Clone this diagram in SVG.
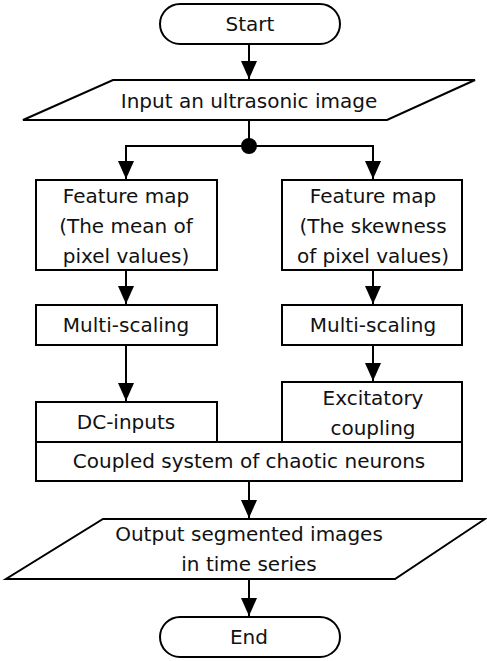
<svg xmlns="http://www.w3.org/2000/svg" width="487" height="661" viewBox="0 0 487 661">
<style>
.s{fill:#fff;stroke:#000;stroke-width:2}
.t{font-family:"DejaVu Sans","Noto Sans",sans-serif;font-size:20px;fill:#111;text-anchor:middle;dominant-baseline:central}
.c{stroke:#000;stroke-width:2;fill:none}
</style>
<defs>
<marker id="a" markerWidth="18" markerHeight="16" refX="18" refY="8" orient="auto" markerUnits="userSpaceOnUse" viewBox="0 0 18 16">
<path d="M0,0 L18,8 L0,16 Z" fill="#000"/>
</marker>
</defs>
<rect width="487" height="661" fill="#fff"/>
<g id="connectors">
<line class="c" x1="249" y1="44" x2="249" y2="79" marker-end="url(#a)"/>
<line class="c" x1="249" y1="120" x2="249" y2="146"/>
<line class="c" x1="126" y1="146" x2="373" y2="146"/>
<line class="c" x1="126" y1="145" x2="126" y2="179" marker-end="url(#a)"/>
<line class="c" x1="373" y1="145" x2="373" y2="179" marker-end="url(#a)"/>
<circle cx="249" cy="146" r="8" fill="#000"/>
<line class="c" x1="126" y1="270" x2="126" y2="304" marker-end="url(#a)"/>
<line class="c" x1="373" y1="270" x2="373" y2="304" marker-end="url(#a)"/>
<line class="c" x1="126" y1="345" x2="126" y2="401" marker-end="url(#a)"/>
<line class="c" x1="373" y1="345" x2="373" y2="381" marker-end="url(#a)"/>
<line class="c" x1="249" y1="481" x2="249" y2="518" marker-end="url(#a)"/>
<line class="c" x1="249" y1="579" x2="249" y2="616" marker-end="url(#a)"/>
</g>
<g id="start">
<rect class="s" x="160" y="4" width="180" height="40" rx="20" ry="20"/>
<text class="t" x="250" y="24">Start</text>
</g>
<g id="input">
<polygon class="s" points="113,80 475,80 387,120 23,120"/>
<text class="t" x="249" y="101">Input an ultrasonic image</text>
</g>
<g id="feature-mean">
<rect class="s" x="36" y="180" width="181" height="90"/>
<text class="t" x="126" y="196">Feature map</text>
<text class="t" x="126" y="226">(The mean of</text>
<text class="t" x="126" y="256">pixel values)</text>
</g>
<g id="feature-skew">
<rect class="s" x="282" y="180" width="180" height="90"/>
<text class="t" x="373" y="196">Feature map</text>
<text class="t" x="373" y="226">(The skewness</text>
<text class="t" x="373" y="256">of pixel values)</text>
</g>
<g id="multi-left">
<rect class="s" x="36" y="305" width="181" height="40"/>
<text class="t" x="126" y="325">Multi-scaling</text>
</g>
<g id="multi-right">
<rect class="s" x="282" y="305" width="180" height="40"/>
<text class="t" x="373" y="325">Multi-scaling</text>
</g>
<g id="coupled">
<rect class="s" x="36" y="442" width="426" height="39"/>
<text class="t" x="249" y="461">Coupled system of chaotic neurons</text>
</g>
<g id="dc-inputs">
<rect class="s" x="36" y="402" width="181" height="40"/>
<text class="t" x="126" y="422">DC-inputs</text>
</g>
<g id="excitatory">
<rect class="s" x="282" y="382" width="180" height="60"/>
<text class="t" x="373" y="398">Excitatory</text>
<text class="t" x="373" y="428">coupling</text>
</g>
<g id="output">
<polygon class="s" points="103,519 485,519 395,579 6,579"/>
<text class="t" x="249" y="534">Output segmented images</text>
<text class="t" x="249" y="564">in time series</text>
</g>
<g id="end">
<rect class="s" x="160" y="617" width="180" height="40" rx="20" ry="20"/>
<text class="t" x="249" y="637">End</text>
</g>
</svg>
